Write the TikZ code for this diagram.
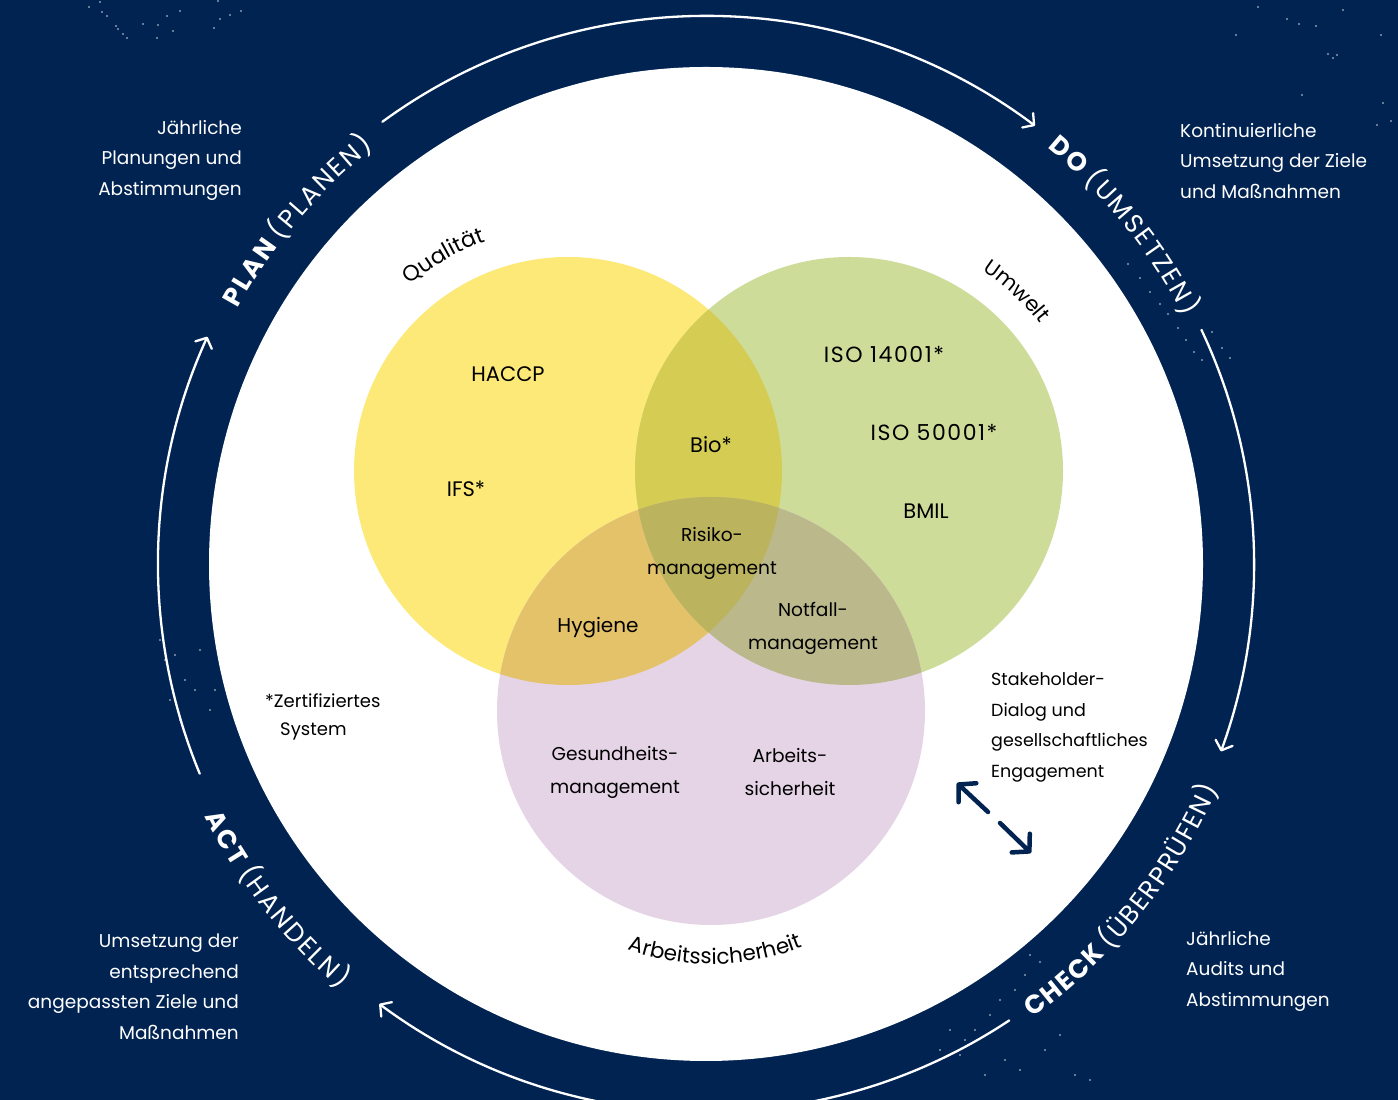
\documentclass[tikz,border=0pt]{standalone}
\usepackage{fontspec}
\setmainfont{Poppins}
\usetikzlibrary{arrows.meta,decorations.text}

\definecolor{navy}{HTML}{012352}
\definecolor{vyellow}{HTML}{FCE978}
\definecolor{vgreen}{HTML}{CEDC99}
\definecolor{vpurple}{HTML}{E5D4E6}
\definecolor{vyg}{HTML}{D5CD53}
\definecolor{vyp}{HTML}{E4C26A}
\definecolor{vgp}{HTML}{BBB98C}
\definecolor{vygp}{HTML}{BBB35E}

% fonts for the PDCA ring labels
\newcommand\pdcabf{\fontsize{26}{26}\selectfont\bfseries\color{white}}
\newcommand\pdcamd{\fontsize{26}{26}\selectfont\mdseries\color{white}}
\newcommand\lsp{\kern2pt}
\newcommand\lspc{\kern1.4pt}
\newcommand\vennlab[1]{\fontsize{#1}{#1}\selectfont\color{black}}

\begin{document}
\begin{tikzpicture}[x=1pt,y=1pt,
  sidetext/.style={font=\fontsize{18.5}{30.5}\selectfont, text=white, inner sep=0pt},
  venntext/.style={font=\fontsize{21}{33}\selectfont, text=black, inner sep=0pt, align=center},
  vennsmall/.style={venntext, font=\fontsize{18.6}{33}\selectfont},
  vennwide/.style={venntext, font=\fontsize{22}{33}\selectfont\addfontfeature{LetterSpace=7}},
  notetext/.style={font=\fontsize{17.5}{30.5}\selectfont, text=black, inner sep=0pt, align=left},
  cyclearc/.style={white, line width=2.3pt, line cap=round,
    -{Straight Barb[round,length=8pt,width=18pt]}},
  stakearrow/.style={navy, line width=4.5pt, line cap=round,
    -{Straight Barb[round,length=12pt,width=26pt]}},
  speck/.style={white, opacity=.55}
]
\useasboundingbox (0,0) rectangle (1398,1100);
\fill[navy] (0,0) rectangle (1398,1100);

% grain specks on the dark background
\foreach \p in {(89,1093),(100,1098),(102,1088),(107,1084),(116,1074),(118,1071),
  (123,1066),(127,1062),(143,1076),(158,1075),(157,1062),(167,1084),(173,1069),
  (180,1089),(214,1072),(220,1081),(230,1085),(241,1089),(218,1099),
  (1258,1093),(1287,1081),(1299,1076),(1316,1074),(1328,1046),(1333,1042),
  (1337,1045),(1343,1090),(1381,1065),(1383,997),(1391,979),(1377,975),
  (1236,1065),(1302,1005),
  (1128,836),(1140,822),(1150,808),(1160,796),(1168,786),(1178,772),(1186,760),
  (1194,748),(1202,740),(1212,768),(1222,752),(1230,742),
  (1030,145),(1040,138),(1025,125),(1015,110),(1000,100),(990,85),(975,70),
  (965,60),(960,45),(1005,40),(1020,30),(1045,50),(1060,65),(1075,25),(1090,20),
  (985,25),(950,70),(940,50),
  (160,460),(165,440),(175,445),(185,420),(195,410),(170,400),(180,380),
  (200,450),(215,410),(210,390)}
  \fill[speck] \p circle[radius=1.2];

% central disc
\coordinate (c) at (706,536);
\fill[white] (c) circle[radius=497];

% PDCA cycle arrows
\coordinate (plan0) at ([shift={(126.2:548)}]c);
\coordinate (do0)   at ([shift={(25.3:548)}]c);
\coordinate (chk0)  at ([shift={(-56.4:548)}]c);
\coordinate (act0)  at ([shift={(202.5:548)}]c);
\draw[cyclearc] (plan0) arc[start angle=126.2, end angle=53.1, radius=548];
\draw[cyclearc] (do0)   arc[start angle=25.3,  end angle=-20,  radius=548];
\draw[cyclearc] (chk0)  arc[start angle=-56.4, end angle=-126.6, radius=548];
\draw[cyclearc] (act0)  arc[start angle=202.5, end angle=155.5, radius=548];

% PDCA ring labels
\path[decorate, decoration={text along path, text align=center,
  text={|\pdcabf|{P\lsp}{L\lsp}{A\lsp}{N\lsp} |\pdcamd|{(\lsp}{P\lsp}{L\lsp}{A\lsp}{N\lsp}{E\lsp}{N\lsp})}}]
  ([shift={(170:533)}]c) arc[start angle=170, end angle=110, radius=533];
\path[decorate, decoration={text along path, text align=center,
  text={|\pdcabf|{D\lsp}{O\lsp} |\pdcamd|{(\lsp}{U\lsp}{M\lsp}{S\lsp}{E\lsp}{T\lsp}{Z\lsp}{E\lsp}{N\lsp})}}]
  ([shift={(69:538)}]c) arc[start angle=69, end angle=9, radius=538];
\path[decorate, decoration={text along path, text align=center,
  text={|\pdcabf|{C\lspc}{H\lspc}{E\lspc}{C\lspc}{K\lspc} |\pdcamd|{(\lspc}{Ü\lspc}{B\lspc}{E\lspc}{R\lspc}{P\lspc}{R\lspc}{Ü\lspc}{F\lspc}{E\lspc}{N\lspc})}}]
  ([shift={(-72:559)}]c) arc[start angle=-72, end angle=-6, radius=559];
\path[decorate, decoration={text along path, text align=center,
  text={|\pdcabf|{A\lsp}{C\lsp}{T\lsp} |\pdcamd|{(\lsp}{H\lsp}{A\lsp}{N\lsp}{D\lsp}{E\lsp}{L\lsp}{N\lsp})}}]
  ([shift={(188:561)}]c) arc[start angle=188, end angle=248, radius=561];

% Venn circles
\coordinate (cy) at (568,629);
\coordinate (cg) at (849,629);
\coordinate (cp) at (711,389);
\fill[vyellow] (cy) circle[radius=214];
\fill[vgreen]  (cg) circle[radius=214];
\fill[vpurple] (cp) circle[radius=214];
\begin{scope}
  \clip (cy) circle[radius=214];
  \fill[vyg] (cg) circle[radius=214];
  \fill[vyp] (cp) circle[radius=214];
\end{scope}
\begin{scope}
  \clip (cg) circle[radius=214];
  \fill[vgp] (cp) circle[radius=214];
\end{scope}
\begin{scope}
  \clip (cy) circle[radius=214];
  \clip (cg) circle[radius=214];
  \fill[vygp] (cp) circle[radius=214];
\end{scope}

% circle titles
\path[decorate, decoration={text along path, text align=center,
  text={|\vennlab{22}|Qualität}}]
  ([shift={(150:244)}]cy) arc[start angle=150, end angle=90, radius=244];
\path[decorate, decoration={text along path, text align=center,
  text={|\vennlab{21}|Umwelt}}]
  ([shift={(77:241)}]cg) arc[start angle=77, end angle=17, radius=241];
\path[decorate, decoration={text along path, text align=center,
  text={|\vennlab{21.5}|Arbeitssicherheit}}]
  ([shift={(231:253)}]cp) arc[start angle=231, end angle=311, radius=253];

% labels inside the circles
\node[venntext] (haccp) at (508,726) {HACCP};
\node[venntext] (ifs)   at (466,611) {IFS*};
\node[venntext] (bio)   at (711,655) {Bio*};
\node[vennwide] (iso14) at (884,745) {ISO 14001*};
\node[vennwide] (iso50) at (934,667) {ISO 50001*};
\node[venntext] (bmil)  at (926,589) {BMIL};
\node[vennsmall] (risk) at (712,547) {Risiko-\\management};
\node[venntext, font=\fontsize{20}{33}\selectfont] (hyg) at (598,472) {Hygiene};
\node[vennsmall] (notf) at (813,472) {Notfall-\\management};
\node[vennsmall] (gesm) at (615,328) {Gesundheits-\\management};
\node[vennsmall] (arbs) at (790,328) {Arbeits-\\sicherheit};

% notes on the white disc
\node[notetext, anchor=west, font=\fontsize{18}{28}\selectfont] (cert) at (265,383)
  {*Zertifiziertes\\\hspace*{15pt}System};
\node[notetext, anchor=west] (stake) at (991,372.5)
  {Stakeholder-\\Dialog und\\gesellschaftliches\\Engagement};

% stakeholder dialogue arrow
\coordinate (sa1) at (957,317);
\coordinate (sa2) at (988,288);
\coordinate (sb1) at (1000,277);
\coordinate (sb2) at (1031,247);
\draw[stakearrow] (sa2) -- (sa1);
\draw[stakearrow] (sb1) -- (sb2);

% descriptions outside the ring
\node[sidetext, anchor=east, align=right] (plantxt) at (242,940)
  {Jährliche\\Planungen und\\Abstimmungen};
\node[sidetext, anchor=west, align=left] (dotxt) at (1180,939)
  {Kontinuierliche\\Umsetzung der Ziele\\und Maßnahmen};
\node[sidetext, anchor=west, align=left] (chktxt) at (1186,129)
  {Jährliche\\Audits und\\Abstimmungen};
\node[sidetext, anchor=east, align=right] (acttxt) at (239,113)
  {Umsetzung der\\entsprechend\\angepassten Ziele und\\Maßnahmen};
\end{tikzpicture}
\end{document}
